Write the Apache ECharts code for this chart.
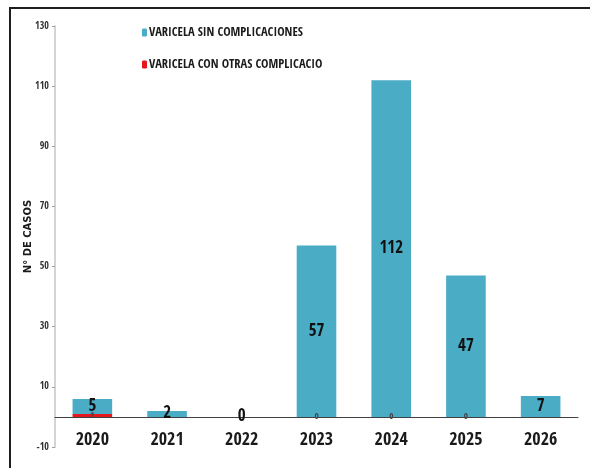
<!DOCTYPE html>
<html>
<head>
<meta charset="utf-8">
<script src="https://cdn.jsdelivr.net/npm/echarts@6/dist/echarts.min.js"></script>
<style>
  html, body { margin: 0; padding: 0; background: #fff; }
  #main { width: 590px; height: 468px; }
</style>
</head>
<body>
<div id="main"></div>
<script>
// datos
var years = ["2020", "2021", "2022", "2023", "2024", "2025", "2026"]
var sinComplicaciones = [5, 2, 0, 57, 112, 47, 7]
var conOtrasComplicaciones = [1, null, null, 0, 0, 0, null]
var nameSin = "VARICELA SIN COMPLICACIONES"
var nameCon = "VARICELA CON OTRAS COMPLICACIO"

var narrow = "'Open Sans Condensed', 'Roboto Condensed', sans-serif"

var myChart = echarts.init(document.getElementById("main"))
var option = {
  animation: false,
  backgroundColor: "#fff",
  graphic: [
    {
      type: "rect",
      shape: { x: 10, y: 8, width: 600, height: 480 },
      style: { fill: "none", stroke: "#1e1e1e", lineWidth: 2 }
    }
  ],
  legend: {
    data: [nameSin, nameCon],
    orient: "vertical",
    left: 142,
    top: 26,
    padding: 0,
    itemWidth: 5,
    itemHeight: 8,
    itemGap: 19,
    textStyle: {
      fontFamily: narrow,
      fontWeight: "bold",
      fontSize: 12.5,
      color: "#1a1a1a",
      padding: [0, 0, 0, -3]
    }
  },
  grid: { left: 55, right: 12, top: 26, bottom: 21, outerBoundsMode: "none", containLabel: false },
  xAxis: {
    type: "category",
    data: years,
    axisLine: { onZero: true, lineStyle: { color: "#404040", width: 1 } },
    axisTick: { length: 5, lineStyle: { color: "#808080" } },
    axisLabel: {
      margin: -16,
      fontFamily: narrow,
      fontWeight: "bold",
      fontSize: 18,
      color: "#1a1a1a"
    }
  },
  yAxis: {
    type: "value",
    min: -10,
    max: 130,
    interval: 20,
    name: "N° DE CASOS",
    nameLocation: "middle",
    nameGap: 22,
    nameMoveOverlap: false,
    nameTextStyle: {
      fontFamily: "'DejaVu Sans', sans-serif",
      fontWeight: "bold",
      fontSize: 10,
      color: "#1a1a1a"
    },
    splitLine: { show: false },
    axisLine: { show: true, lineStyle: { color: "#d4d4d4", width: 2 } },
    axisTick: { show: true, length: 3, lineStyle: { color: "#a0a0a0" } },
    axisLabel: {
      margin: 6,
      fontFamily: narrow,
      fontWeight: "bold",
      fontSize: 10,
      color: "#333"
    }
  },
  series: [
    {
      name: nameCon,
      type: "bar",
      stack: "total",
      barWidth: "53%",
      data: conOtrasComplicaciones,
      itemStyle: { color: "#e5161c" },
      label: {
        show: true,
        position: "inside",
        fontFamily: narrow,
        fontSize: 9,
        color: "#444"
      }
    },
    {
      name: nameSin,
      type: "bar",
      stack: "total",
      data: sinComplicaciones,
      itemStyle: { color: "#4bacc6" },
      label: {
        show: true,
        position: "inside",
        fontFamily: narrow,
        fontWeight: "bold",
        fontSize: 17,
        color: "#111"
      }
    }
  ]
}
myChart.setOption(option)
</script>
</body>
</html>
